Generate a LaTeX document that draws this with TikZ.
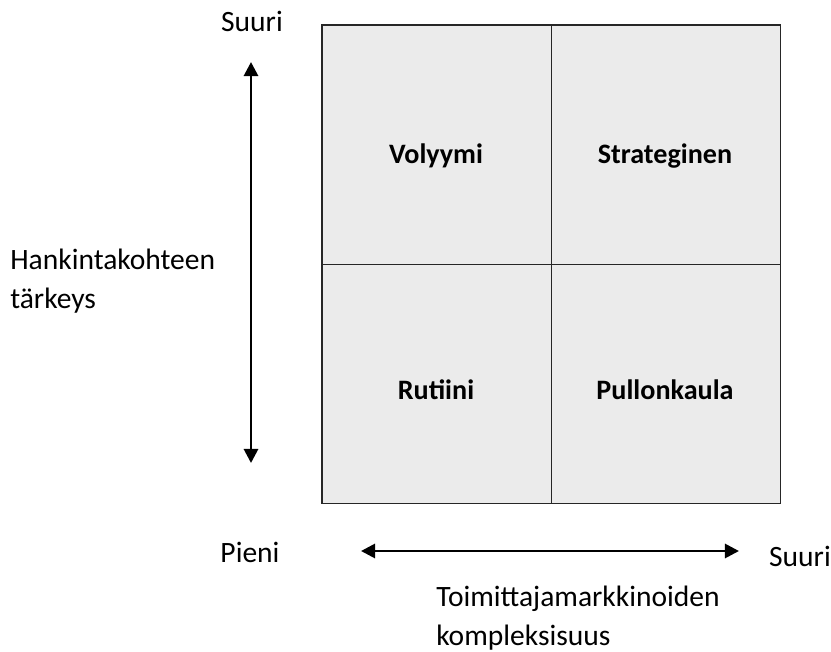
\documentclass[tikz,border=0pt]{standalone}
\usepackage{fontspec}
\setmainfont{Carlito}
\usetikzlibrary{arrows.meta, positioning, calc}

\definecolor{cellgray}{HTML}{EBEBEB}

\begin{document}
\begin{tikzpicture}[x=0.025cm, y=-0.025cm,
    cell/.style={draw=black!85, fill=cellgray, line width=0.7pt, minimum width=229*0.025cm, minimum height=239*0.025cm, inner sep=0pt},
    quad/.style={anchor=base, inner sep=0pt, font=\fontsize{20}{24}\selectfont\bfseries},
    lbl/.style={anchor=base, inner sep=0pt, font=\fontsize{21}{27.5}\selectfont, align=left},
    axis/.style={line width=2pt, {Triangle[width=10pt, length=10pt]}-{Triangle[width=10pt, length=10pt]}}]
    \useasboundingbox (0,0) rectangle (831,652);

    \node[cell] (vol) at (436.5,144.5) {};
    \node[cell] (str) at (665.5,144.5) {};
    \node[cell] (rut) at (436.5,383.5) {};
    \node[cell] (pul) at (665.5,383.5) {};
    \draw[black!85, line width=1.4pt] (vol.north west) rectangle (pul.south east);

    \node[quad] (voltext) at (436,163) {Volyymi};
    \node[quad] (strtext) at (665,163) {Strateginen};
    \node[quad] (ruttext) at (436,399) {Rutiini};
    \node[quad] (pultext) at (665,399) {Pullonkaula};

    \node[lbl] (ytop) at (252,31) {Suuri};
    \node[lbl, anchor=base west] (yname) at (10,308) {Hankintakohteen\\tärkeys};
    \node[lbl] (xleft) at (250,562) {Pieni};
    \node[lbl] (xright) at (800,566) {Suuri};
    \node[lbl, anchor=base west] (xname) at (436,645) {Toimittajamarkkinoiden\\kompleksisuus};

    \coordinate (yhi) at (251,62);
    \coordinate (ylo) at (251,463);
    \coordinate (xlo) at (361,551);
    \coordinate (xhi) at (739,551);
    \draw[axis] (ylo) -- (yhi);
    \draw[axis] (xlo) -- (xhi);
\end{tikzpicture}
\end{document}
